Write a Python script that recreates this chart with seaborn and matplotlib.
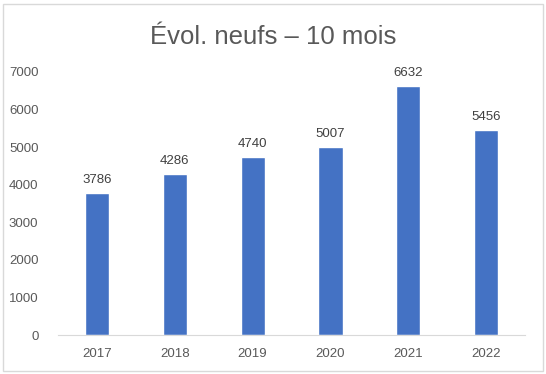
import matplotlib
matplotlib.use("Agg")
import matplotlib.pyplot as plt
import seaborn as sns
from matplotlib.patches import Rectangle

years = ["2017", "2018", "2019", "2020", "2021", "2022"]
values = [3786, 4286, 4740, 5007, 6632, 5456]
title = "Évol. neufs – 10 mois"

sns.set_style("white")
plt.rcParams["font.family"] = ["Liberation Sans", "DejaVu Sans"]

fig = plt.figure(figsize=(5.46, 3.74), dpi=100)
ax = fig.add_axes([0.106, 0.104, 0.856, 0.704])

sns.barplot(x=years, y=values, color="#4472C4", width=0.31, saturation=1, ax=ax)

for i, v in enumerate(values):
    ax.text(i, v + 180, str(v), ha="center", va="bottom", fontsize=9.5, color="#404040")

ax.set_ylim(0, 7000)
ax.set_yticks(range(0, 7001, 1000))
ax.set_xlim(-0.5, len(years) - 0.5)
ax.tick_params(axis="both", length=0, labelsize=9.5, colors="#595959")
ax.tick_params(axis="x", pad=9)
ax.tick_params(axis="y", pad=14)
for s in ["top", "right", "left"]:
    ax.spines[s].set_visible(False)
ax.spines["bottom"].set_color("#D9D9D9")
ax.set_xlabel("")
ax.set_ylabel("")

fig.text(0.5, 0.9, title, ha="center", va="center", fontsize=18.5, color="#595959")

fig.patches.append(Rectangle((0.006, 0.008), 0.988, 0.982, transform=fig.transFigure,
                             fill=False, edgecolor="#D9D9D9", linewidth=1))

fig.savefig("out.png", dpi=100)
